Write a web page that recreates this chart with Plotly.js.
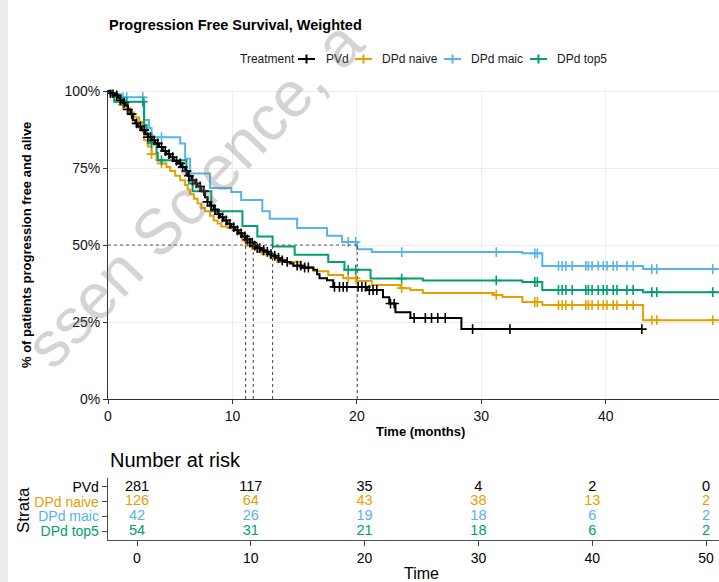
<!DOCTYPE html>
<html>
<head>
<meta charset="utf-8">
<script src="https://cdn.plot.ly/plotly-3.0.1.min.js"></script>
<style>html,body{margin:0;padding:0;background:#fff;}#chart{width:719px;height:582px;}</style>
</head>
<body>
<div id="chart"></div>
<script>
// ---------- data ----------
const strata = ['PVd', 'DPd naive', 'DPd maic', 'DPd top5'];
const colPVd = '#000000', colNaive = '#E69F00', colMaic = '#56B4E9', colTop5 = '#009E73';

// y ticks of the survival panel
const yTickVals = [0, 25, 50, 75, 100];
const yTickText = ['0%', '25%', '50%', '75%', '100%'];
const xTickVals = [0, 10, 20, 30, 40];

// PVd step curve (months, % progression free)
const pvdT = [0, 0.2, 0.5, 0.8, 1.0, 1.2, 1.4, 1.6, 1.8, 2.0, 2.2, 2.4, 2.7, 3.0, 3.2, 3.5, 3.8, 4.1, 4.4, 4.7, 5.0, 5.3, 5.6, 5.9, 6.2, 6.4, 6.7, 7.0, 7.2, 7.5, 7.8, 8.0, 8.2, 8.5, 8.8, 9.0, 9.3, 9.6, 9.9, 10.2, 10.5, 10.8, 11.1, 11.4, 11.67, 12.0, 12.3, 12.6, 12.9, 13.2, 13.5, 13.8, 14.2, 14.6, 14.9, 15.6, 16.5, 16.8, 17.0, 17.6, 18.1, 20.8, 22.1, 22.6, 23.1, 24.3, 28.4, 42.9];
const pvdS = [100, 99.3, 98.6, 97.8, 97, 96.2, 95.3, 94, 92.5, 90.5, 89.5, 88.5, 87.3, 86, 85, 84, 83, 81.8, 80.5, 79.5, 78.5, 77.3, 76.5, 75.3, 74, 72.5, 71, 70, 69, 67.5, 65.5, 64, 62.8, 61.5, 60, 59, 58, 56.8, 55.8, 54.8, 53.8, 52.8, 51.8, 50.8, 49.8, 49, 48.3, 47.8, 47, 46.5, 45.8, 45, 44.5, 44, 43.3, 42.7, 42, 40.5, 39.2, 38.6, 36.4, 35.4, 33, 31, 28.2, 26.3, 22.7, 22.7];
const pvdCensor = [0.2, 0.4, 0.7, 1.0, 1.3, 1.6, 1.9, 2.3, 2.6, 2.9, 3.2, 3.4, 3.7, 4.0, 4.3, 4.6, 4.9, 5.2, 5.5, 5.8, 6.0, 6.3, 6.5, 6.8, 7.1, 7.4, 7.7, 8.0, 8.3, 8.6, 8.9, 9.2, 9.5, 9.8, 10.1, 10.4, 10.7, 11.0, 11.2, 11.4, 11.6, 11.8, 12.0, 12.2, 12.5, 12.8, 13.1, 13.4, 13.7, 14.0, 14.4, 15.2, 15.5, 15.8, 16.1, 18.2, 18.6, 18.9, 19.2, 20.1, 20.4, 20.7, 21.0, 21.3, 21.6, 22.7, 23.0, 24.6, 25.5, 26.0, 26.5, 27.1, 29.3, 32.3, 42.9];

// DPd naive
const naiveT = [0, 0.3, 0.6, 0.9, 1.2, 1.5, 1.8, 2.1, 2.5, 2.8, 2.9, 3.2, 3.5, 3.9, 4.3, 4.7, 5.0, 5.4, 5.8, 6.2, 6.4, 6.6, 6.9, 7.2, 7.5, 7.8, 8.2, 8.5, 8.8, 9.1, 9.6, 10.0, 10.4, 10.8, 11.06, 11.6, 12.0, 12.4, 13.0, 13.6, 15.4, 16.5, 17.7, 18.9, 20.0, 21.2, 23.5, 24.3, 25.3, 31.0, 31.7, 33.3, 34.9, 43.0, 49.5];
const naiveS = [100, 99, 98, 96.8, 95.5, 94.3, 93, 91.5, 90, 88, 84, 82, 79.5, 77.5, 76.5, 75.3, 74, 72.5, 71, 69.5, 68, 66.5, 65, 63.5, 62, 61, 59.5, 58, 57, 56, 55.5, 55, 53.5, 51.5, 49.8, 48.6, 47.8, 47, 46, 44.5, 42.5, 41.5, 40.3, 39.2, 38.3, 37, 36, 35.4, 34.4, 33.8, 33.1, 31.5, 30.5, 25.6, 25.6];

// DPd maic
const maicT = [0, 0.3, 1.0, 2.9, 3.3, 3.5, 5.8, 6.2, 6.6, 8.2, 9.9, 10.7, 12.4, 13.0, 15.2, 17.6, 18.8, 20.03, 21.2, 33.3, 34.9, 43.0, 49.5];
const maicS = [100, 99, 98, 90.6, 88, 85, 83, 78, 73.2, 68.5, 67.2, 64.6, 61, 58.5, 55.5, 53, 51, 48.6, 47.7, 47.3, 43.2, 42.2, 42.2];

// DPd top5
const top5T = [0, 0.2, 0.5, 2.9, 3.1, 3.5, 3.9, 4.0, 6.3, 6.5, 6.8, 8.3, 10.8, 12.0, 13.23, 15.0, 17.7, 19.0, 21.1, 25.3, 33.3, 34.9, 43.0, 49.5];
const top5S = [100, 98.5, 96.5, 89, 86, 83, 80, 77.5, 73, 70, 67.5, 61, 56.2, 52.8, 49.5, 46.8, 44.5, 42, 39.1, 38.5, 38.0, 35.4, 34.7, 34.7];

// censoring times shared by the weighted DPd arms
const dpdCensor = [1.2, 1.5, 2.8, 3.5, 4.3, 19.3, 19.9, 23.6, 31.2, 34.3, 34.5, 36.2, 36.5, 36.8, 37.3, 38.4, 38.6, 38.9, 39.4, 39.8, 40.1, 40.6, 40.9, 41.7, 42.2, 43.7, 44.1, 48.6];

// medians (months)
const medians = [11.06, 11.67, 13.23, 20.03];

// number at risk
const riskTimes = [0, 10, 20, 30, 40, 50];
const riskPVd = [281, 117, 35, 4, 2, 0];
const riskNaive = [126, 64, 43, 38, 13, 2];
const riskMaic = [42, 26, 19, 18, 6, 2];
const riskTop5 = [54, 31, 21, 18, 6, 2];

// ---------- drawing ----------
const FONT = 'Liberation Sans, Arial, sans-serif';
const W = 719, H = 582;
const X = p => p / W;
const Y = p => 1 - p / H;

function stepAt(ts, ss, t) {
  let v = ss[0];
  for (let i = 0; i < ts.length; i++) if (ts[i] <= t) v = ss[i];
  return v;
}

const arms = [
  {name: 'DPd naive', T: naiveT, S: naiveS, c: colNaive, cens: dpdCensor},
  {name: 'DPd maic', T: maicT, S: maicS, c: colMaic, cens: dpdCensor},
  {name: 'DPd top5', T: top5T, S: top5S, c: colTop5, cens: dpdCensor},
  {name: 'PVd', T: pvdT, S: pvdS, c: colPVd, cens: pvdCensor}
];

const traces = [];
arms.forEach(a => {
  traces.push({
    type: 'scatter', mode: 'lines', x: a.T, y: a.S, name: a.name,
    line: {shape: 'hv', width: 2, color: a.c}, hoverinfo: 'skip', showlegend: false,
    xaxis: 'x', yaxis: 'y'
  });
  const lastT = a.T[a.T.length - 1];
  const ct = a.cens.filter(t => t <= lastT);
  traces.push({
    type: 'scatter', mode: 'markers', x: ct, y: ct.map(t => stepAt(a.T, a.S, t)),
    marker: {symbol: 'cross-thin', size: 7, color: a.c, line: {width: 1.6, color: a.c}},
    hoverinfo: 'skip', showlegend: false, xaxis: 'x', yaxis: 'y'
  });
});

const riskRows = [
  {name: 'PVd', v: riskPVd, c: colPVd},
  {name: 'DPd naive', v: riskNaive, c: colNaive},
  {name: 'DPd maic', v: riskMaic, c: colMaic},
  {name: 'DPd top5', v: riskTop5, c: colTop5}
];
riskRows.forEach(r => {
  traces.push({
    type: 'scatter', mode: 'text', x: riskTimes, y: riskTimes.map(() => r.name),
    text: r.v.map(String), textposition: 'middle center',
    textfont: {family: FONT, size: 14.5, color: r.c},
    hoverinfo: 'skip', showlegend: false, xaxis: 'x2', yaxis: 'y2', cliponaxis: false
  });
});

const shapes = [];
// background strip at left edge
shapes.push({type: 'rect', xref: 'paper', yref: 'paper', x0: 0, x1: X(8), y0: 0, y1: 1,
  fillcolor: '#eeedeb', line: {width: 0}, layer: 'below'});
// median lines
const medMax = Math.max(...medians);
shapes.push({type: 'line', xref: 'x', yref: 'y', x0: 0, x1: medMax, y0: 50, y1: 50,
  line: {color: '#555', width: 1, dash: '3px,3px'}, layer: 'above'});
medians.forEach(m => shapes.push({type: 'line', xref: 'x', yref: 'y', x0: m, x1: m, y0: 0, y1: 50,
  line: {color: '#444', width: 1, dash: '3px,3px'}, layer: 'above'}));

// manual legend
const legendItems = [
  {label: 'PVd', c: colPVd, sx: 298, tx: 324},
  {label: 'DPd naive', c: colNaive, sx: 355, tx: 380},
  {label: 'DPd maic', c: colMaic, sx: 444, tx: 469},
  {label: 'DPd top5', c: colTop5, sx: 530, tx: 555}
];
const legY = 59;
const annotations = [];
annotations.push({xref: 'paper', yref: 'paper', x: X(238), y: Y(legY), xanchor: 'left', yanchor: 'middle',
  text: 'Treatment', showarrow: false, font: {family: FONT, size: 12, color: '#1a1a1a'}});
legendItems.forEach(it => {
  shapes.push({type: 'line', xref: 'paper', yref: 'paper', x0: X(it.sx), x1: X(it.sx + 17), y0: Y(legY), y1: Y(legY),
    line: {color: it.c, width: 2}});
  shapes.push({type: 'line', xref: 'paper', yref: 'paper', x0: X(it.sx + 8.5), x1: X(it.sx + 8.5), y0: Y(legY - 4.5), y1: Y(legY + 4.5),
    line: {color: it.c, width: 2}});
  annotations.push({xref: 'paper', yref: 'paper', x: X(it.tx), y: Y(legY), xanchor: 'left', yanchor: 'middle',
    text: it.label, showarrow: false, font: {family: FONT, size: 12, color: '#1a1a1a'}});
});

// axis titles and table header
annotations.push({xref: 'paper', yref: 'paper', x: X(26), y: Y(245), xanchor: 'center', yanchor: 'middle', textangle: -90,
  text: '<b>% of patients progression free and alive</b>', showarrow: false, font: {family: FONT, size: 13, color: '#000'}});
annotations.push({xref: 'paper', yref: 'paper', x: X(420), y: Y(431), xanchor: 'center', yanchor: 'middle',
  text: '<b>Time (months)</b>', showarrow: false, font: {family: FONT, size: 13, color: '#000'}});
annotations.push({xref: 'paper', yref: 'paper', x: X(108), y: Y(460), xanchor: 'left', yanchor: 'middle',
  text: 'Number at risk', showarrow: false, font: {family: FONT, size: 20, color: '#000'}});
annotations.push({xref: 'paper', yref: 'paper', x: X(23), y: Y(510), xanchor: 'center', yanchor: 'middle', textangle: -90,
  text: 'Strata', showarrow: false, font: {family: FONT, size: 17, color: '#000'}});
annotations.push({xref: 'paper', yref: 'paper', x: X(421), y: Y(573), xanchor: 'center', yanchor: 'middle',
  text: 'Time', showarrow: false, font: {family: FONT, size: 16, color: '#000'}});
// watermark (kept inside the page)
annotations.push({xref: 'paper', yref: 'paper', x: X(194), y: Y(194), xanchor: 'center', yanchor: 'middle', textangle: -46,
  text: 'ssen Science, a', showarrow: false, font: {family: FONT, size: 64, color: 'rgba(120,120,120,0.32)'}});

const strataColors = [colPVd, colNaive, colMaic, colTop5];
const layout = {
  width: W, height: H,
  margin: {l: 0, r: 0, t: 0, b: 0, pad: 0},
  paper_bgcolor: '#ffffff', plot_bgcolor: '#ffffff',
  font: {family: FONT, color: '#000'},
  title: {text: 'Progression Free Survival, Weighted', x: X(109), xanchor: 'left', xref: 'paper',
    y: Y(25), yanchor: 'middle', yref: 'paper',
    font: {family: FONT, size: 14.5, color: '#000', weight: 'bold'}},
  showlegend: false,
  xaxis: {domain: [X(108), 1], range: [0, 49.1], anchor: 'y', tickmode: 'array', tickvals: xTickVals,
    ticktext: xTickVals.map(String),
    ticks: 'outside', ticklen: 4, tickcolor: '#333', tickwidth: 1,
    showline: true, linecolor: '#333', linewidth: 1, showgrid: true, gridcolor: '#ededed', gridwidth: 1,
    zeroline: false, tickfont: {family: FONT, size: 14, color: '#111'}, fixedrange: true},
  yaxis: {domain: [Y(399), Y(89.5)], range: [0, 100.5], anchor: 'x', tickmode: 'array',
    tickvals: yTickVals, ticktext: yTickText,
    ticks: 'outside', ticklen: 4, tickcolor: '#333', tickwidth: 1,
    showline: true, linecolor: '#333', linewidth: 1, showgrid: true, gridcolor: '#ededed', gridwidth: 1,
    zeroline: false, tickfont: {family: FONT, size: 14, color: '#111'}, fixedrange: true},
  xaxis2: {domain: [X(108), 1], range: [-2.548, 51.14], anchor: 'y2', tickmode: 'array', tickvals: riskTimes,
    ticktext: riskTimes.map(String),
    ticks: 'outside', ticklen: 5, tickcolor: '#444', tickwidth: 1,
    showline: true, linecolor: '#4d4d4d', linewidth: 1.3, showgrid: false, zeroline: false,
    tickfont: {family: FONT, size: 14, color: '#000'}, fixedrange: true},
  yaxis2: {domain: [Y(540), Y(478)], type: 'category', categoryorder: 'array',
    categoryarray: strata.slice().reverse(), range: [-0.6, 3.6], anchor: 'x2',
    tickmode: 'array', tickvals: strata,
    ticktext: strata.map((s, i) => '<span style="color:' + strataColors[i] + '">' + s + '</span>'),
    ticks: 'outside', ticklen: 5, tickcolor: '#444', tickwidth: 1,
    showline: true, linecolor: '#4d4d4d', linewidth: 1.3, showgrid: false, zeroline: false,
    tickfont: {family: FONT, size: 14, color: '#000'}, fixedrange: true},
  shapes: shapes,
  annotations: annotations
};

Plotly.newPlot('chart', traces, layout, {displayModeBar: false, staticPlot: true});
</script>
</body>
</html>
